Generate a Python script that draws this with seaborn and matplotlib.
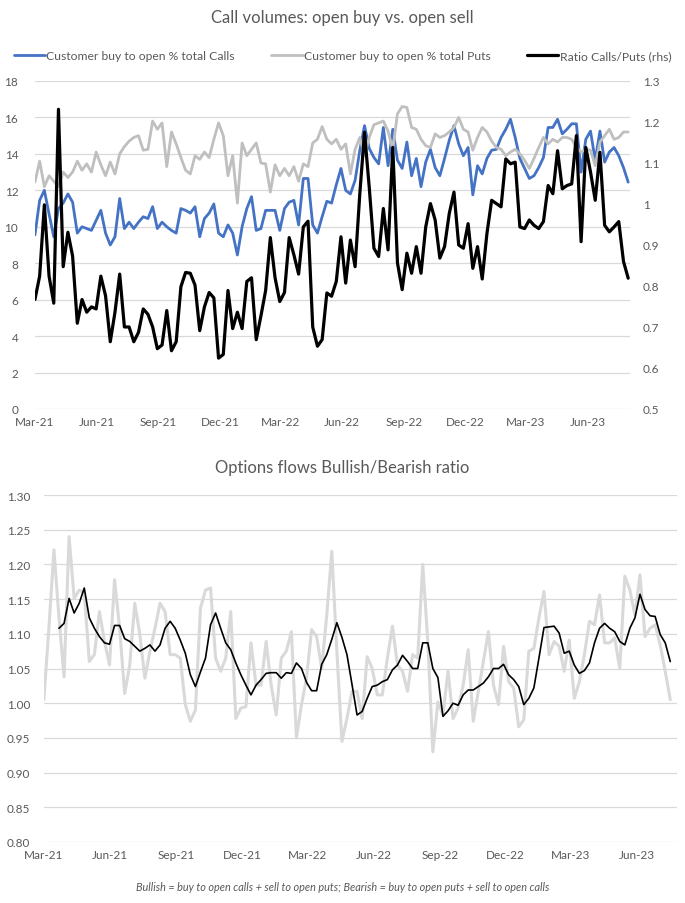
import numpy as np
import pandas as pd
import matplotlib
matplotlib.use('Agg')
import matplotlib.pyplot as plt
import matplotlib.dates as mdates
import matplotlib.ticker as mticker
import seaborn as sns

# ---- data (weekly) ----
top_start = '2021-03-01'
bottom_start = '2021-03-01'

calls_pct = [9.55, 11.45, 12.0, 10.7, 9.45, 11.0, 11.3, 11.8, 11.35, 9.65,
             10.0, 9.9, 9.8, 10.35, 10.9, 9.65, 9.0, 9.45, 11.55, 9.9,
             10.25, 9.9, 10.25, 10.55, 10.45, 11.1, 9.9, 10.25, 10.0, 9.8,
             9.65, 11.0, 10.9, 10.75, 11.1, 9.45, 10.45, 10.75, 11.25, 9.65,
             9.45, 10.1, 9.65, 8.45, 10.0, 11.0, 11.65, 9.8, 9.9, 10.9,
             10.9, 10.9, 9.8, 11.0, 11.35, 11.45, 10.1, 12.65, 12.65, 10.1,
             9.65, 10.55, 11.4, 11.3, 12.3, 13.2, 12.0, 11.8, 12.55, 14.2,
             15.55, 14.3, 13.8, 13.45, 15.45, 13.35, 15.35, 13.65, 13.2, 14.65,
             12.8, 13.75, 12.2, 13.55, 14.25, 13.25, 12.8, 13.75, 14.75, 15.55,
             14.55, 13.9, 14.35, 11.75, 13.35, 12.9, 13.75, 14.2, 14.25, 14.9,
             15.35, 15.9, 14.9, 13.75, 13.2, 12.65, 12.8, 13.25, 13.8, 15.45,
             15.45, 15.9, 15.1, 15.35, 15.65, 15.65, 13.0, 14.8, 15.25, 13.65,
             15.25, 13.55, 14.1, 14.35, 13.9, 13.25, 12.45]

puts_pct = [12.45, 13.6, 12.2, 12.8, 12.5, 12.2, 13.0, 12.7, 13.0, 13.6,
            13.1, 13.45, 13.0, 14.1, 13.4, 12.8, 13.55, 12.9, 14.0, 14.4,
            14.7, 14.9, 15.0, 14.2, 14.25, 15.8, 15.35, 15.7, 13.3, 15.2,
            14.55, 13.8, 13.1, 12.9, 13.9, 13.7, 14.1, 13.8, 14.8, 15.7,
            15.0, 12.8, 13.9, 11.3, 14.6, 13.9, 14.25, 14.6, 13.5, 13.45,
            11.9, 13.4, 12.8, 13.2, 12.8, 13.3, 12.5, 13.45, 13.3, 14.6,
            14.8, 15.5, 14.8, 14.55, 14.8, 14.25, 14.55, 12.9, 14.25, 14.9,
            13.9, 14.9, 15.6, 15.7, 15.8, 15.25, 14.25, 16.2, 16.6, 16.55,
            15.45, 15.35, 14.8, 14.45, 14.35, 15.1, 14.9, 15.0, 15.2, 15.45,
            16.0, 15.35, 15.2, 14.2, 14.9, 15.45, 15.2, 14.7, 14.35, 14.25,
            13.9, 14.1, 14.25, 14.0, 13.65, 13.2, 13.75, 14.35, 14.9, 14.55,
            14.8, 14.65, 14.9, 14.9, 14.8, 14.35, 14.1, 14.25, 14.2, 13.35,
            14.65, 15.0, 15.35, 14.8, 14.9, 15.2, 15.2]

ratio_calls_puts = [0.767, 0.824, 0.998, 0.824, 0.758, 1.231, 0.847, 0.931, 0.873, 0.709,
                    0.767, 0.736, 0.749, 0.744, 0.824, 0.776, 0.664, 0.736, 0.829, 0.700,
                    0.700, 0.664, 0.687, 0.744, 0.731, 0.700, 0.647, 0.656, 0.740, 0.642,
                    0.664, 0.798, 0.833, 0.831, 0.802, 0.691, 0.749, 0.784, 0.771, 0.624,
                    0.633, 0.789, 0.696, 0.736, 0.696, 0.811, 0.820, 0.669, 0.727, 0.789,
                    0.918, 0.820, 0.762, 0.784, 0.918, 0.876, 0.829, 0.944, 0.958, 0.700,
                    0.653, 0.669, 0.783, 0.775, 0.811, 0.920, 0.807, 0.912, 0.847, 1.025,
                    1.175, 1.041, 0.892, 0.872, 0.989, 0.888, 1.138, 0.856, 0.791, 0.880,
                    0.831, 0.896, 0.831, 0.944, 1.001, 0.961, 0.868, 0.896, 0.977, 1.029,
                    0.900, 0.892, 0.952, 0.843, 0.896, 0.817, 0.928, 1.009, 1.001, 0.993,
                    1.110, 1.098, 1.102, 0.944, 0.940, 0.961, 0.948, 0.940, 0.957, 1.045,
                    1.025, 1.130, 1.037, 1.045, 1.049, 1.167, 0.908, 1.138, 1.078, 1.009,
                    1.126, 0.948, 0.932, 0.944, 0.957, 0.860, 0.819]

bull_bear = [1.005, 1.108, 1.221, 1.123, 1.038, 1.240, 1.151, 1.163, 1.159, 1.060,
             1.070, 1.132, 1.089, 1.055, 1.178, 1.108, 1.014, 1.055, 1.144, 1.099,
             1.036, 1.075, 1.108, 1.144, 1.132, 1.070, 1.070, 1.065, 0.998, 0.974,
             0.990, 1.137, 1.163, 1.166, 1.065, 1.046, 1.065, 1.132, 0.978, 0.993,
             0.995, 1.087, 1.026, 1.026, 1.089, 1.026, 0.983, 1.065, 1.075, 1.103,
             0.950, 0.998, 1.036, 1.106, 1.096, 1.050, 1.127, 1.219, 1.075, 0.945,
             0.978, 1.017, 1.017, 0.978, 1.067, 1.050, 1.012, 1.012, 1.065, 1.111,
             1.055, 1.046, 1.017, 1.070, 1.065, 1.200, 1.089, 0.930, 1.002, 0.983,
             1.046, 0.978, 0.993, 1.026, 1.077, 0.974, 1.017, 1.060, 1.103, 1.026,
             0.998, 1.082, 1.031, 1.022, 0.966, 0.976, 1.075, 1.079, 1.123, 1.161,
             1.070, 1.089, 1.082, 1.046, 1.091, 1.007, 1.031, 1.070, 1.118, 1.113,
             1.156, 1.087, 1.087, 1.094, 1.050, 1.183, 1.163, 1.127, 1.185, 1.096,
             1.108, 1.113, 1.084, 1.046, 1.005]

bull_bear_avg = [np.nan, np.nan, np.nan, 1.108, 1.115, 1.151, 1.130, 1.144, 1.166, 1.123,
                 1.108, 1.096, 1.087, 1.085, 1.112, 1.112, 1.093, 1.089, 1.082, 1.075,
                 1.079, 1.084, 1.075, 1.084, 1.108, 1.118, 1.108, 1.091, 1.072, 1.041,
                 1.024, 1.045, 1.065, 1.113, 1.130, 1.108, 1.087, 1.077, 1.058, 1.041,
                 1.026, 1.012, 1.026, 1.034, 1.043, 1.044, 1.044, 1.036, 1.044, 1.043,
                 1.058, 1.050, 1.030, 1.018, 1.018, 1.056, 1.070, 1.092, 1.116, 1.095,
                 1.070, 1.027, 0.983, 0.988, 1.007, 1.024, 1.026, 1.031, 1.034, 1.048,
                 1.055, 1.069, 1.060, 1.050, 1.050, 1.087, 1.087, 1.050, 1.037, 0.981,
                 0.989, 1.000, 0.997, 1.012, 1.019, 1.019, 1.024, 1.029, 1.038, 1.050,
                 1.050, 1.056, 1.041, 1.034, 1.024, 0.998, 1.007, 1.022, 1.065, 1.109,
                 1.110, 1.111, 1.101, 1.072, 1.075, 1.055, 1.043, 1.047, 1.058, 1.087,
                 1.108, 1.115, 1.108, 1.103, 1.089, 1.084, 1.108, 1.123, 1.157, 1.135,
                 1.126, 1.125, 1.099, 1.087, 1.060]

top_df = pd.DataFrame({
    'date': pd.date_range(top_start, periods=len(calls_pct), freq='7D'),
    'calls': calls_pct,
    'puts': puts_pct,
    'ratio': ratio_calls_puts,
})
bottom_df = pd.DataFrame({
    'date': pd.date_range(bottom_start, periods=len(bull_bear), freq='7D'),
    'ratio': bull_bear,
    'avg': bull_bear_avg,
})

# ---- style ----
sns.set_theme(style='white')
plt.rcParams['font.family'] = ['Lato', 'DejaVu Sans']
text_color = '#595959'
grid_color = '#d9d9d9'
blue = '#4472C4'
gray_top = '#BFBFBF'
gray_bottom = '#D9D9D9'

fig = plt.figure(figsize=(6.85, 9.04), dpi=100)
ax = fig.add_axes([0.051, 0.5465, 0.869, 0.3628])
ax2 = ax.twinx()
axb = fig.add_axes([0.064, 0.0675, 0.924, 0.3838])


def style_dates(a, x0, x1):
    a.set_xlim(pd.Timestamp(x0), pd.Timestamp(x1))
    a.xaxis.set_major_locator(mdates.MonthLocator(bymonth=[3, 6, 9, 12]))
    a.xaxis.set_major_formatter(mdates.DateFormatter('%b-%y'))
    a.tick_params(axis='both', colors=text_color, labelsize=8.5, length=0, pad=5)
    a.set_xlabel('')
    a.set_ylabel('')
    for s in a.spines.values():
        s.set_visible(False)


# ---- top chart ----
sns.lineplot(data=top_df, x='date', y='calls', ax=ax, color=blue, linewidth=2.0,
             label='Customer buy to open % total Calls', legend=False)
sns.lineplot(data=top_df, x='date', y='puts', ax=ax, color=gray_top, linewidth=2.0,
             label='Customer buy to open % total Puts', legend=False)
sns.lineplot(data=top_df, x='date', y='ratio', ax=ax2, color='black', linewidth=2.3,
             label='Ratio Calls/Puts (rhs)', legend=False)

ax.set_ylim(0, 18)
ax.set_yticks(range(0, 19, 2))
ax.yaxis.grid(True, color=grid_color, linewidth=0.9)
ax.set_axisbelow(True)
ax2.set_ylim(0.5, 1.3)
ax2.set_yticks([0.5, 0.6, 0.7, 0.8, 0.9, 1.0, 1.1, 1.2, 1.3])
ax2.yaxis.set_major_formatter(mticker.FuncFormatter(lambda v, p: f'{v:g}'))
ax2.grid(False)
style_dates(ax, '2021-03-01', '2023-08-03')
style_dates(ax2, '2021-03-01', '2023-08-03')
ax.tick_params(axis='y', pad=12)
ax2.tick_params(axis='y', pad=9)

fig.text(0.5, 0.980, 'Call volumes: open buy vs. open sell', ha='center', va='center',
         fontsize=12, color=text_color)
h1, l1 = ax.get_legend_handles_labels()
h2, l2 = ax2.get_legend_handles_labels()
fig.legend(h1 + h2, l1 + l2, loc='center', bbox_to_anchor=(0.5, 0.937), ncol=3,
           frameon=False, fontsize=8.7, handlelength=2.6, handletextpad=0.1,
           columnspacing=3.0, labelcolor=text_color)

# ---- bottom chart ----
sns.lineplot(data=bottom_df, x='date', y='ratio', ax=axb, color=gray_bottom, linewidth=2.2)
sns.lineplot(data=bottom_df, x='date', y='avg', ax=axb, color='black', linewidth=1.2)
axb.set_ylim(0.8, 1.3)
axb.set_yticks(np.arange(0.80, 1.301, 0.05))
axb.yaxis.set_major_formatter(mticker.FormatStrFormatter('%.2f'))
axb.yaxis.grid(True, color=grid_color, linewidth=0.9)
axb.set_axisbelow(True)
style_dates(axb, '2021-03-01', '2023-07-26')
axb.tick_params(axis='y', pad=10)

fig.text(0.5, 0.482, 'Options flows Bullish/Bearish ratio', ha='center', va='center',
         fontsize=12, color=text_color)
fig.text(0.5, 0.018,
         'Bullish = buy to open calls + sell to open puts; Bearish = buy to open puts + sell to open calls',
         ha='center', va='center', fontsize=7.8, style='italic', color=text_color)

fig.savefig('out.png', dpi=100, facecolor='white')
